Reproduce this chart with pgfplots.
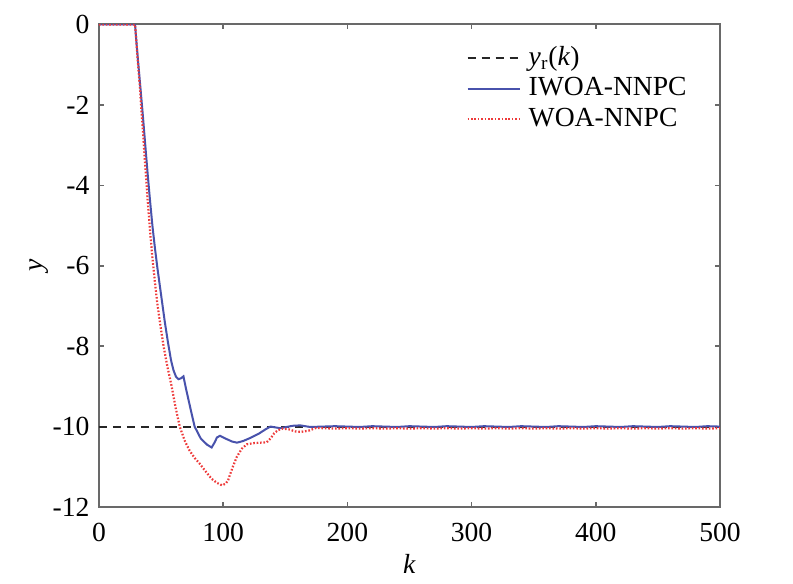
\documentclass[border=0pt]{standalone}
\usepackage{pgfplots}
\pgfplotsset{compat=1.18}
\usepackage{fontspec}
\setmainfont{Liberation Serif}
\definecolor{bl}{RGB}{72,82,172}
\definecolor{rd}{RGB}{238,58,58}
\definecolor{ax}{RGB}{105,105,105}
\begin{document}
\fontsize{13.8}{16}\selectfont
\begin{tikzpicture}
\path[use as bounding box,fill=white] (-49.5pt,-38.5pt) rectangle (347pt,253.5pt);
\begin{axis}[
  scale only axis,
  width=310.5pt, height=241.25pt,
  xmin=0, xmax=500, ymin=-12, ymax=0,
  xtick={0,100,200,300,400,500},
  ytick={-12,-10,-8,-6,-4,-2,0},
  yticklabels={-12,-10,-8,-6,-4,-2,0},
  xticklabels={0,100,200,300,400,500},
  tick align=inside,
  major tick length=2.5pt,
  axis line style={ax,line width=1pt},
  every tick/.style={ax,line width=0.8pt},
  tick label style={font=\fontsize{13.8}{16}\selectfont},
  xticklabel style={yshift=-3.5pt},
  xlabel={\textit{k}}, ylabel={\textit{y}},
  xlabel style={yshift=3.5pt},
  ylabel style={yshift=-7.5pt},
  label style={font=\fontsize{13.8}{16}\selectfont},
  legend style={draw=none,fill=none,at={(0.588,0.968)},anchor=north west,
    font=\fontsize{13.8}{16}\selectfont,row sep=0pt,inner sep=1pt,
    nodes={inner xsep=4pt}},
  legend cell align=left,
  legend image code/.code={\draw[#1] (0pt,0pt) -- (26pt,0pt);},
]
\addplot[black!85,line width=1pt,dash pattern=on 4pt off 3pt] coordinates {(0,-10) (500,-10)};
\addlegendentry{\textit{y}\textsubscript{r}(\textit{k})}
\addplot[bl,line width=1pt] coordinates {
(0,0) (29,0) (31,-0.75) (33,-1.45) (35,-2.15) (37,-2.9) (39,-3.65) (41,-4.35) (43,-5.0)
(45,-5.55) (47,-6.05) (49,-6.5) (51,-6.95) (53,-7.4) (55.5,-7.9) (58,-8.35) (60,-8.6)
(62,-8.76) (64,-8.82) (66,-8.8) (68,-8.75) (70,-9.05) (74,-9.6) (77,-10)
(82,-10.3) (87,-10.45) (90.7,-10.52) (93,-10.4) (95,-10.27) (97.4,-10.23) (102,-10.3)
(107,-10.37) (111,-10.4) (116,-10.36) (122,-10.28) (129,-10.17) (134,-10.07) (138,-10.0)
(142,-10.02) (146,-10.04) (151,-10.01) (156,-9.98) (162,-9.97) (170,-10.01) (180,-10.0)
(190,-9.99) (200,-10.0) (210,-10.01) (220,-9.99) (230,-10.0) (240,-10.01) (250,-9.99)
(260,-10.0) (270,-10.01) (280,-9.99) (290,-10.0) (300,-10.01) (310,-9.99) (320,-10.0)
(330,-10.01) (340,-9.99) (350,-10.0) (360,-10.01) (370,-9.99) (380,-10.0) (390,-10.01)
(400,-9.99) (410,-10.0) (420,-10.01) (430,-9.99) (440,-10.0) (450,-10.01) (460,-9.99)
(470,-10.0) (480,-10.01) (490,-9.99) (500,-10.0)};
\addlegendentry{IWOA-NNPC}
\addplot[rd,line width=1.1pt,dash pattern=on 0.8pt off 0.9pt] coordinates {
(0,0) (29,0) (31,-0.8) (33,-1.6) (35,-2.5) (37,-3.4) (39,-4.3) (41,-5.1) (43,-5.8)
(45,-6.4) (47,-6.95) (49.5,-7.5) (52,-8) (55,-8.5) (58.5,-9) (61.5,-9.5) (65,-10)
(69,-10.35) (73,-10.6) (77,-10.78) (81,-10.92)
(86,-11.12) (90.7,-11.3) (95,-11.4) (99,-11.46) (102,-11.42) (104,-11.33) (106,-11.15)
(108,-10.98) (111,-10.75) (115,-10.55) (119,-10.44) (125,-10.41) (130,-10.4) (135,-10.39)
(138,-10.3) (141,-10.17) (144,-10.09) (148,-10.05) (153,-10.07) (158,-10.12) (163,-10.13)
(169,-10.1) (175,-10.03) (180,-10.04) (190,-10.05) (200,-10.04) (210,-10.05) (220,-10.04)
(230,-10.05) (240,-10.04) (250,-10.05) (260,-10.04) (270,-10.05) (280,-10.04) (290,-10.05)
(300,-10.04) (310,-10.05) (320,-10.04) (330,-10.05) (340,-10.04) (350,-10.05) (360,-10.04)
(370,-10.05) (380,-10.04) (390,-10.05) (400,-10.04) (410,-10.05) (420,-10.04) (430,-10.05)
(440,-10.04) (450,-10.05) (460,-10.04) (470,-10.05) (480,-10.04) (490,-10.05) (500,-10.04)};
\addlegendentry{WOA-NNPC}
\end{axis}
\end{tikzpicture}
\end{document}
